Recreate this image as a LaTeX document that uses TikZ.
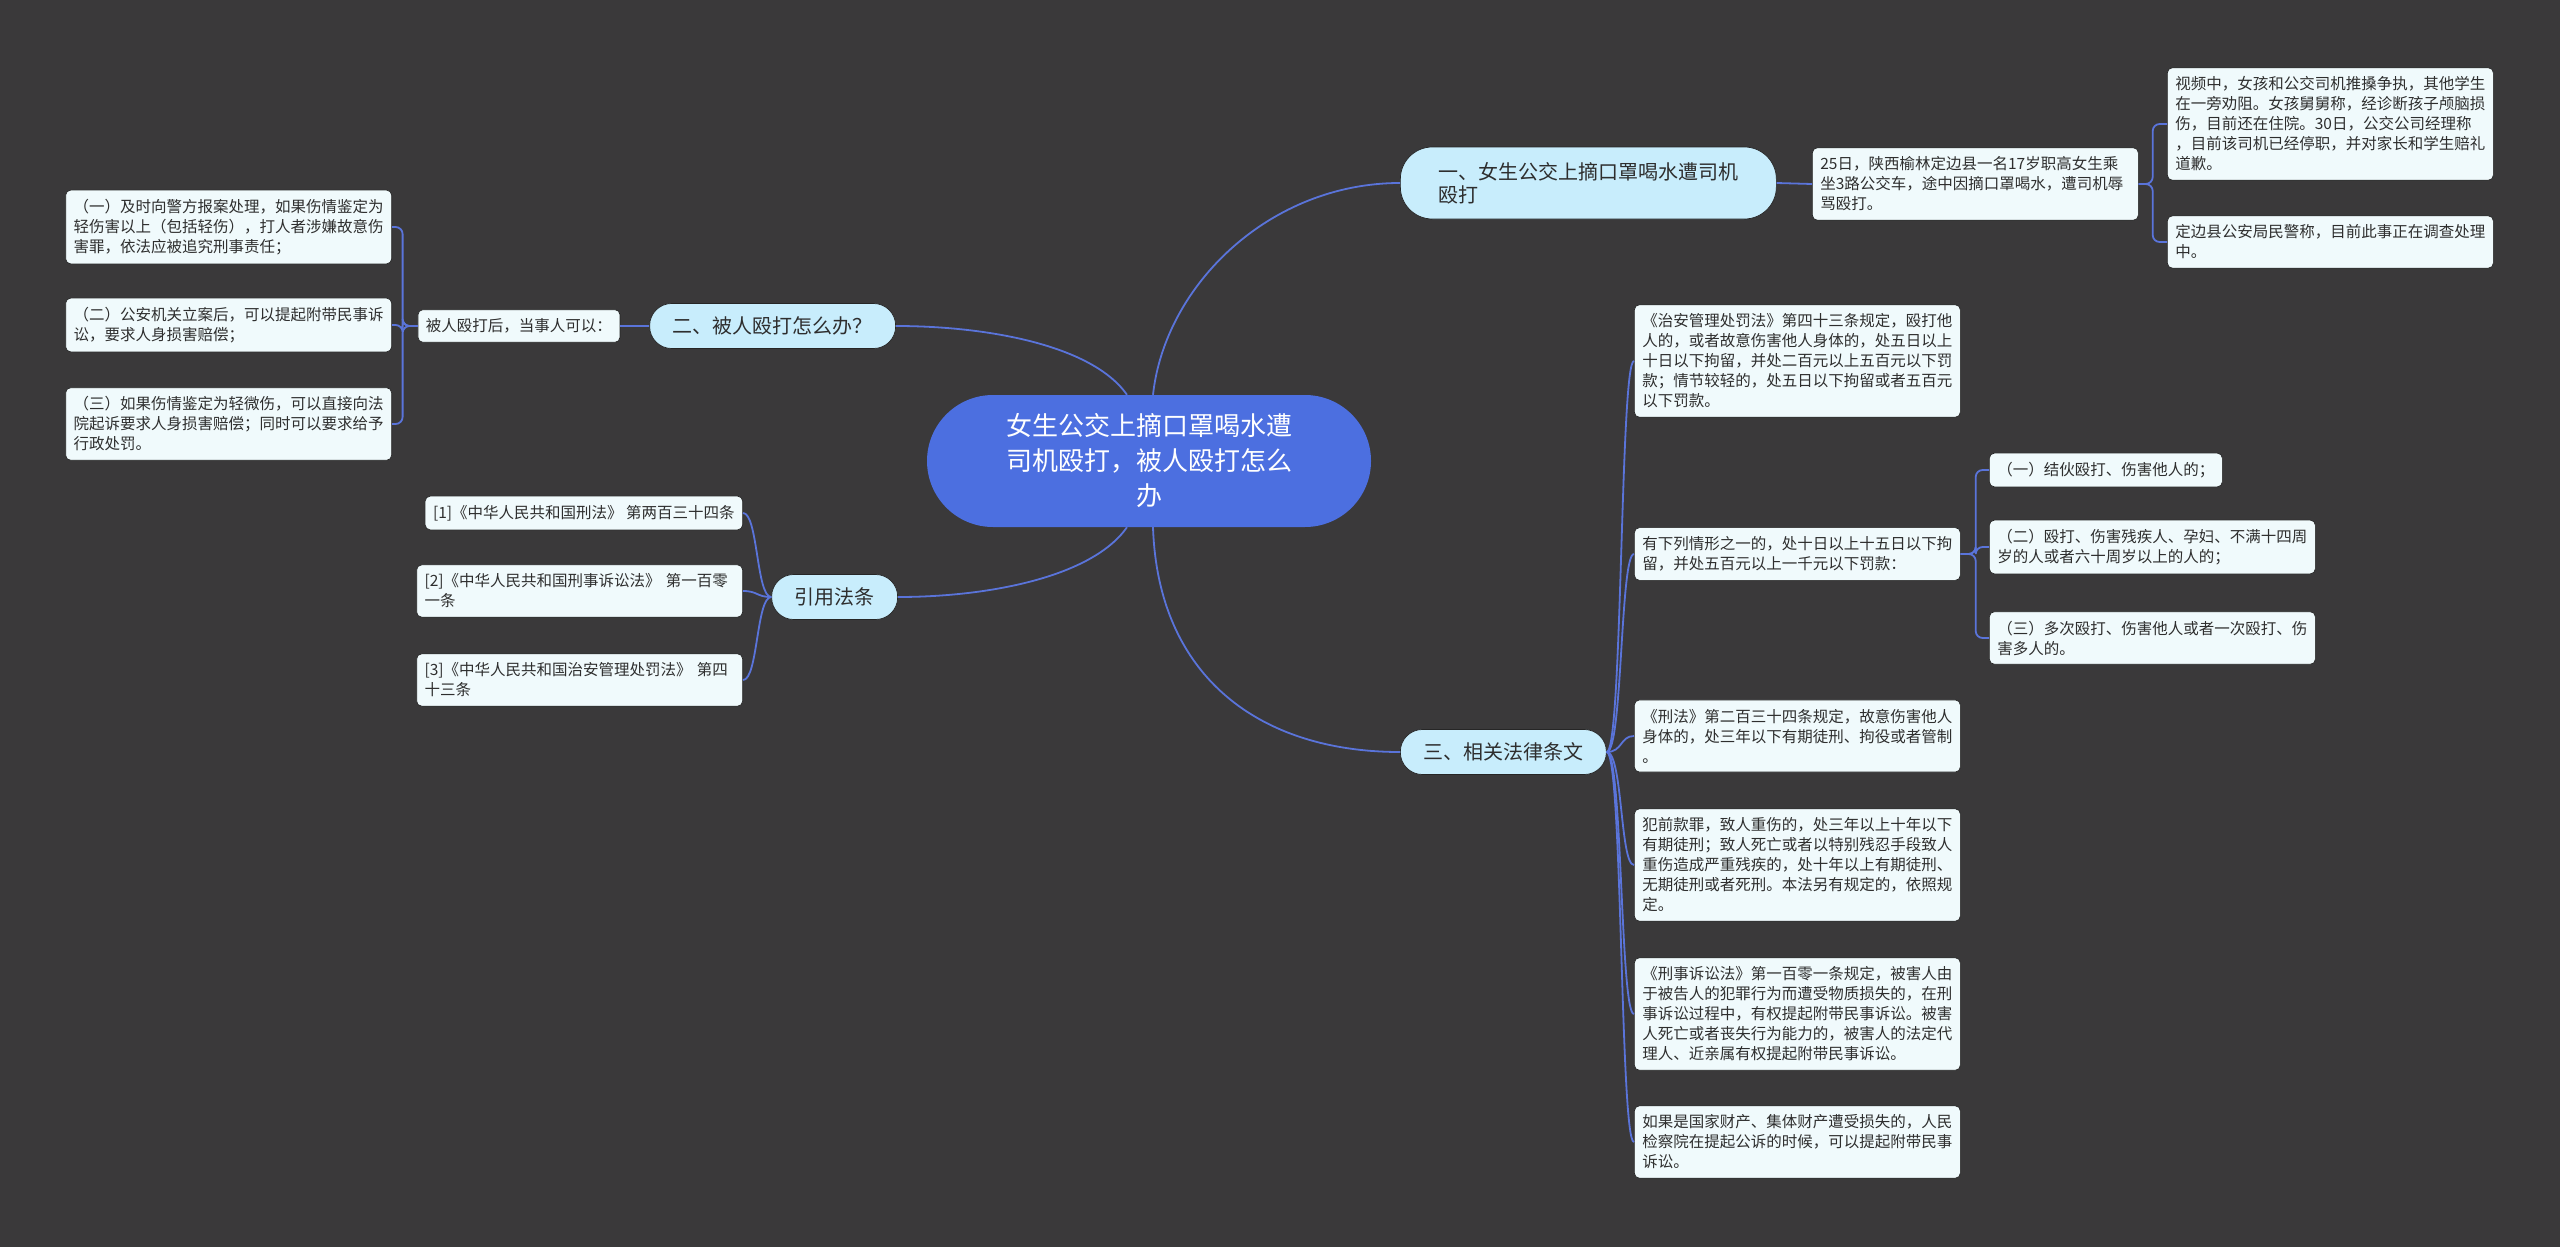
\documentclass[tikz,border=0pt]{standalone}
\usepackage{fontspec}
\setmainfont{Noto Sans CJK SC}
\usepackage{xcolor}
\usetikzlibrary{positioning,calc}
\definecolor{bgdark}{HTML}{3A393A}
\definecolor{rootblue}{HTML}{4C6FE0}
\definecolor{linkblue}{HTML}{5A74DA}
\definecolor{topicfill}{HTML}{C8EDFC}
\definecolor{leaffill}{HTML}{F0FAFC}
\definecolor{inkdark}{HTML}{2E2E2E}
\tikzset{
  maplink/.style={draw=linkblue, line width=1.8pt},
  mapnode/.style={draw=black!85, line width=0.7pt, align=left, text=inkdark},
}

\begin{document}
\begin{tikzpicture}[
  x=1pt, y=-1pt,
  hub/.style={fill=rootblue, text=white, rounded corners=66pt, minimum width=444pt, minimum height=132pt,
    text width=300pt, align=center, font=\fontsize{26}{35}\selectfont},
  topic/.style={mapnode, fill=topicfill, rounded corners=22pt, inner xsep=23pt, minimum height=45pt,
    font=\fontsize{20}{23}\selectfont},
  card/.style={mapnode, fill=leaffill, rounded corners=5pt, inner xsep=8pt, inner ysep=9pt,
    font=\fontsize{15.5}{20}\selectfont},
  leaf/.style={card, text width=310pt},
  elbow/.style={maplink, rounded corners=7pt},
]
  \fill[bgdark] (0,0) rectangle (2560,1247);
  \useasboundingbox (0,0) rectangle (2560,1247);

  % centre
  \node[hub] (root) at (1149,461) {女生公交上摘口罩喝水遭\\司机殴打，被人殴打怎么\\办};

  % main branches
  \node[topic, anchor=west, text width=300pt, inner xsep=38pt, minimum height=72pt, rounded corners=32pt] (t1) at (1400,183)
    {一、女生公交上摘口罩喝水遭司机\\殴打};
  \node[topic, anchor=east] (t2) at (896,326) {二、被人殴打怎么办？};
  \node[topic, anchor=east] (t3) at (898,597) {引用法条};
  \node[topic, anchor=west] (t4) at (1400,752) {三、相关法律条文};

  % branch one
  \node[leaf, anchor=west] (r1) at (1812,184)
    {25日，陕西榆林定边县一名17岁职高女生乘\\坐3路公交车，途中因摘口罩喝水，遭司机辱\\骂殴打。};
  \node[leaf, anchor=west] (r11) at (2167,124)
    {视频中，女孩和公交司机推搡争执，其他学生\\在一旁劝阻。女孩舅舅称，经诊断孩子颅脑损\\伤，目前还在住院。30日，公交公司经理称\\，目前该司机已经停职，并对家长和学生赔礼\\道歉。};
  \node[leaf, anchor=west] (r12) at (2167,242)
    {定边县公安局民警称，目前此事正在调查处理\\中。};

  % branch two
  \node[card, left=29pt of t2] (b) {被人殴打后，当事人可以：};
  \node[leaf, anchor=east] (l1) at (392,227)
    {（一）及时向警方报案处理，如果伤情鉴定为\\轻伤害以上（包括轻伤），打人者涉嫌故意伤\\害罪，依法应被追究刑事责任；};
  \node[leaf, anchor=east] (l2) at (392,325)
    {（二）公安机关立案后，可以提起附带民事诉\\讼，要求人身损害赔偿；};
  \node[leaf, anchor=east] (l3) at (392,424)
    {（三）如果伤情鉴定为轻微伤，可以直接向法\\院起诉要求人身损害赔偿；同时可以要求给予\\行政处罚。};

  % cited articles
  \node[card, anchor=east] (c1) at (743,513) {[1]《中华人民共和国刑法》 第两百三十四条};
  \node[leaf, anchor=east] (c2) at (743,591) {[2]《中华人民共和国刑事诉讼法》 第一百零\\一条};
  \node[leaf, anchor=east] (c3) at (743,680) {[3]《中华人民共和国治安管理处罚法》 第四\\十三条};

  % branch three
  \node[leaf, anchor=west] (r2) at (1634,361)
    {《治安管理处罚法》第四十三条规定，殴打他\\人的，或者故意伤害他人身体的，处五日以上\\十日以下拘留，并处二百元以上五百元以下罚\\款；情节较轻的，处五日以下拘留或者五百元\\以下罚款。};
  \node[leaf, anchor=west] (r3) at (1634,554)
    {有下列情形之一的，处十日以上十五日以下拘\\留，并处五百元以上一千元以下罚款：};
  \node[card, anchor=west] (r31) at (1989,470) {（一）结伙殴打、伤害他人的；};
  \node[leaf, anchor=west] (r32) at (1989,547)
    {（二）殴打、伤害残疾人、孕妇、不满十四周\\岁的人或者六十周岁以上的人的；};
  \node[leaf, anchor=west] (r33) at (1989,638)
    {（三）多次殴打、伤害他人或者一次殴打、伤\\害多人的。};
  \node[leaf, anchor=west] (r4) at (1634,736)
    {《刑法》第二百三十四条规定，故意伤害他人\\身体的，处三年以下有期徒刑、拘役或者管制\\。};
  \node[leaf, anchor=west] (r5) at (1634,865)
    {犯前款罪，致人重伤的，处三年以上十年以下\\有期徒刑；致人死亡或者以特别残忍手段致人\\重伤造成严重残疾的，处十年以上有期徒刑、\\无期徒刑或者死刑。本法另有规定的，依照规\\定。};
  \node[leaf, anchor=west] (r6) at (1634,1014)
    {《刑事诉讼法》第一百零一条规定，被害人由\\于被告人的犯罪行为而遭受物质损失的，在刑\\事诉讼过程中，有权提起附带民事诉讼。被害\\人死亡或者丧失行为能力的，被害人的法定代\\理人、近亲属有权提起附带民事诉讼。};
  \node[leaf, anchor=west] (r7) at (1634,1142)
    {如果是国家财产、集体财产遭受损失的，人民\\检察院在提起公诉的时候，可以提起附带民事\\诉讼。};

  % links from the centre
  \draw[maplink] ([xshift=4pt]root.north) .. controls +(12,-110) and +(-130,0) .. (t1.west);
  \draw[maplink] ([xshift=-22pt]root.north) .. controls +(-35,-50) and +(90,0) .. (t2.east);
  \draw[maplink] ([xshift=-22pt]root.south) .. controls +(-35,50) and +(90,0) .. (t3.east);
  \draw[maplink] ([xshift=4pt]root.south) .. controls +(5,150) and +(-140,0) .. (t4.west);

  \draw[maplink] (t1.east) -- (r1.west);
  \draw[maplink] (t2.west) -- (b.east);
  \foreach \x in {r11,r12}
    \draw[elbow] (r1.east) -- ++(14,0) |- (\x.west);
  \foreach \x in {l1,l2,l3}
    \draw[elbow] (b.west) -- ++(-15,0) |- (\x.east);
  \foreach \x in {r31,r32,r33}
    \draw[elbow] (r3.east) -- ++(15,0) |- (\x.west);
  \foreach \x in {c1,c2,c3}
    \draw[maplink] (t3.west) .. controls +(-15,0) and +(15,0) .. (\x.east);
  \foreach \x in {r2,r3,r4,r5,r6,r7}
    \draw[maplink] (t4.east) .. controls +(16,0) and +(-14,0) .. (\x.west);
\end{tikzpicture}
\end{document}
